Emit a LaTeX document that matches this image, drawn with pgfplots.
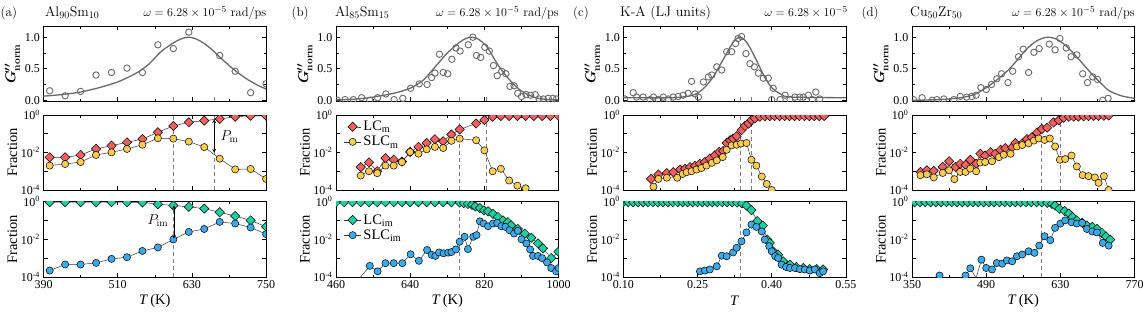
\documentclass[border=0pt]{standalone}
\usepackage[no-math]{fontspec}
\setmainfont{Liberation Serif}
\usepackage{pgfplots}
\pgfplotsset{compat=1.18}

\definecolor{redc}{RGB}{240,96,96}
\definecolor{yelc}{RGB}{250,205,80}
\definecolor{grnc}{RGB}{30,208,160}
\definecolor{bluc}{RGB}{58,170,235}
\definecolor{gcol}{RGB}{105,105,105}
\definecolor{dcol}{RGB}{125,125,125}

\newcommand\tickfont{\fontsize{12}{13}\selectfont}
\newcommand\labfont{\fontsize{14.5}{15}\selectfont}
\newcommand\titfont{\fontfamily{lmr}\fontsize{14}{16}\selectfont}
\newcommand\omfont{\fontfamily{lmr}\fontsize{12.5}{14}\selectfont}
\newcommand\plfont{\fontfamily{lmr}\fontsize{13}{15}\selectfont}
\newcommand\sps[1]{\textsuperscript{#1}}
\newcommand\Glab{{\boldmath$G^{\prime\prime}_{\mathrm{norm}}$}}

\tikzset{dsh/.style={draw=dcol, line width=1pt, dash pattern=on 4pt off 3pt}}

\pgfplotsset{
  base/.style={scale only axis, width=222.6pt, anchor=north west,
    axis line style={line width=0.8pt}, tick style={line width=0.6pt, black},
    major tick length=4pt, minor tick length=2.5pt,
    tick label style={font=\tickfont},
    every axis y label/.style={at={(axis description cs:-0.14,0.5)}, rotate=90, anchor=center, font=\labfont},
    every axis x label/.style={at={(axis description cs:0.5,-0.32)}, anchor=center, font=\labfont},
    clip marker paths=true},
  colA/.style={xmin=390,xmax=750,xtick={390,510,630,750},minor xtick={450,570,690}},
  colB/.style={xmin=460,xmax=1000,xtick={460,640,820,1000},minor xtick={550,730,910}},
  colC/.style={xmin=0.10,xmax=0.55,xtick={0.10,0.25,0.40,0.55},minor xtick={0.175,0.325,0.475}},
  colD/.style={xmin=350,xmax=770,xtick={350,490,630,770},minor xtick={420,560,700}},
  toprow/.style={height=75pt, ymin=-0.02, ymax=1.17, ytick={0,0.5,1}, yticklabels={0.0,0.5,1.0}, minor ytick={0.25,0.75}, ylabel={\Glab}, xticklabel=\empty},
  logrow/.style={ymin=1e-4, ymax=1, ytick={1e-4,1e-3,1e-2,1e-1,1}, yticklabels={10\sps{-4},,10\sps{-2},,10\sps{0}}, yminorticks=false, ylabel={Fraction}},
  midrow/.style={logrow, height=75pt, xticklabel=\empty},
  botrow/.style={logrow, height=75.5pt, xlabel={\textit{T}\,(K)}},
  gcirc/.style={only marks, mark=o, mark size=3.2pt, color=gcol, mark options={line width=0.9pt}},
  gfit/.style={no marks, smooth, color=gcol, line width=1.3pt},
  lc/.style={color=black!80, line width=0.5pt, mark=square*, mark size=3.3pt, mark options={rotate=45, fill=#1, draw=black, line width=0.5pt}},
  slc/.style={color=black!80, line width=0.5pt, mark=*, mark size=3.6pt, mark options={fill=#1, draw=black, line width=0.5pt}},
  vd/.style={dsh, forget plot, no marks},
  leg/.style={legend style={draw=none, fill=none, at={(axis description cs:0.03,#1)}, anchor=north west, font=\labfont, inner sep=1pt, row sep=0pt}, legend cell align=left},
}

\begin{document}
\begin{tikzpicture}
\useasboundingbox (0,0) rectangle (1144pt,-313pt);

% ---------- titles ----------
\node[anchor=base west, inner sep=0pt, font=\plfont] at (0.5pt,-16.5pt) {(a)};
\node[anchor=base west, inner sep=0pt, font=\titfont] at (45pt,-16.5pt) {Al$_{90}$Sm$_{10}$};
\node[anchor=base east, inner sep=0pt, font=\omfont] at (266.5pt,-16.5pt) {$\omega = 6.28\times10^{-5}$ rad/ps};
\node[anchor=base west, inner sep=0pt, font=\plfont] at (291.5pt,-16.5pt) {(b)};
\node[anchor=base west, inner sep=0pt, font=\titfont] at (335pt,-16.5pt) {Al$_{85}$Sm$_{15}$};
\node[anchor=base east, inner sep=0pt, font=\omfont] at (559pt,-16.5pt) {$\omega = 6.28\times10^{-5}$ rad/ps};
\node[anchor=base west, inner sep=0pt, font=\plfont] at (573pt,-16.5pt) {(c)};
\node[anchor=base west, inner sep=0pt, font=\titfont] at (620pt,-16.5pt) {K-A (LJ units)};
\node[anchor=base east, inner sep=0pt, font=\omfont] at (848pt,-16.5pt) {$\omega = 6.28\times10^{-5}$};
\node[anchor=base west, inner sep=0pt, font=\plfont] at (861.5pt,-16.5pt) {(d)};
\node[anchor=base west, inner sep=0pt, font=\titfont] at (910pt,-16.5pt) {Cu$_{50}$Zr$_{50}$};
\node[anchor=base east, inner sep=0pt, font=\omfont] at (1135pt,-16.5pt) {$\omega = 6.28\times10^{-5}$ rad/ps};

% ================= (a) =================
\begin{axis}[base, colA, toprow, at={(43.5pt,-26.5pt)}]
\addplot[vd] coordinates {(601,-0.02) (601,0.08)};
\addplot[vd] coordinates {(666,-0.02) (666,0.08)};
\addplot[gfit] coordinates {(390,0.065) (420,0.09) (450,0.13) (480,0.2) (510,0.29) (540,0.43) (560,0.57) (580,0.77) (600,0.91) (612,0.97) (623,1.0) (635,0.98) (650,0.9) (665,0.78) (680,0.64) (700,0.47) (720,0.33) (740,0.22) (750,0.18)};
\addplot[gcirc] coordinates {(400,0.15) (425,0.07) (450,0.14) (475,0.40) (500,0.44) (525,0.51) (550,0.44) (575,0.88) (600,0.82) (625,1.08) (675,0.71) (700,0.46) (725,0.12) (750,0.26)};
\end{axis}

\begin{axis}[ymode=log, base, colA, midrow, at={(43.5pt,-115pt)}]
\addplot[vd] coordinates {(601,1e-4) (601,1)};
\addplot[vd] coordinates {(666,1e-4) (666,1)};
\addplot[lc=redc] coordinates {(400,5.5e-3) (425,5.5e-3) (450,7.4e-3) (475,1.55e-2) (500,2.3e-2) (525,3.5e-2) (550,5.2e-2) (575,0.12) (600,0.26) (625,0.41) (650,0.5) (675,0.62) (700,0.81) (725,0.91) (750,0.91)};
\addplot[slc=yelc] coordinates {(400,2.0e-3) (425,2.45e-3) (450,3.1e-3) (475,7.4e-3) (500,1.02e-2) (525,1.55e-2) (550,2.6e-2) (575,5.75e-2) (600,5.5e-2) (625,3.8e-2) (650,1.95e-2) (675,4.7e-3) (700,1.26e-3) (725,1.32e-3) (750,3.9e-4)};
\draw[stealth-stealth, line width=0.7pt] (axis cs:666,0.59) -- (axis cs:666,0.0098);
\node[anchor=west, font=\titfont, inner sep=0pt] at (axis cs:676,0.07) {$P_{\mathrm{m}}$};
\end{axis}

\begin{axis}[ymode=log, base, colA, botrow, at={(43.5pt,-201.5pt)}, xticklabels={390,510,630,750}]
\addplot[vd] coordinates {(601,1e-4) (601,1)};
\addplot[lc=grnc] coordinates {(400,0.92) (425,0.92) (450,0.92) (475,0.92) (500,0.92) (525,0.92) (550,0.9) (575,0.72) (600,0.62) (625,0.52) (650,0.42) (675,0.27) (700,0.17) (725,0.10) (750,0.046)};
\addplot[slc=bluc] coordinates {(400,2.2e-4) (425,4.6e-4) (450,4.6e-4) (475,5.6e-4) (500,9.1e-4) (525,1.12e-3) (550,2.4e-3) (575,3.7e-3) (600,9.8e-3) (625,2.45e-2) (650,3.5e-2) (675,8.3e-2) (700,6.8e-2) (725,4.2e-2) (750,1.86e-2)};
\draw[stealth-stealth, line width=0.7pt] (axis cs:601,0.62) -- (axis cs:601,0.011);
\node[anchor=east, font=\titfont, inner sep=0pt] at (axis cs:592,0.1) {$P_{\mathrm{im}}$};
\end{axis}

% ================= (b) =================
\begin{axis}[base, colB, toprow, at={(336pt,-26.5pt)}]
\addplot[vd] coordinates {(760,-0.02) (760,0.08)};
\addplot[vd] coordinates {(825,-0.02) (825,0.08)};
\addplot[gfit] coordinates {(460,0.005) (500,0.015) (540,0.04) (567,0.07) (600,0.11) (640,0.19) (670,0.31) (690,0.45) (710,0.6) (730,0.75) (760,0.92) (775,0.98) (789,1.0) (805,0.97) (825,0.86) (840,0.7) (857,0.52) (875,0.37) (890,0.26) (905,0.17) (922,0.1) (940,0.05) (954,0.025) (980,0.01) (1000,0.005)};
\addplot[gcirc] coordinates {(463,0.00) (482,0.01) (502,0.01) (522,0.04) (542,0.00) (561,0.04) (581,0.10) (601,0.01) (622,0.03) (641,0.19) (662,0.26) (681,0.25) (692,0.36) (700,0.43) (711,0.73) (720,0.44) (731,0.42) (741,0.65) (751,0.83) (761,0.78) (781,0.88) (792,1.0) (801,0.71) (811,0.68) (821,0.84) (832,0.78) (842,0.55) (851,0.39) (862,0.46) (872,0.42) (882,0.22) (892,0.23) (901,0.11) (910,0.06) (921,0.09) (932,0.08) (943,0.09) (953,0.02) (963,0.02) (975,0.03) (986,0.03) (995,0.02)};
\end{axis}

\begin{axis}[ymode=log, base, colB, midrow, at={(336pt,-115pt)}, leg=0.96]
\addplot[vd] coordinates {(760,1e-4) (760,1)};
\addplot[vd] coordinates {(825,1e-4) (825,1)};
\addplot[lc=redc] coordinates {(520,1.66e-3) (540,2.95e-3) (560,1.0e-3) (580,5.0e-3) (600,4.1e-3) (620,3.3e-3) (640,1.07e-2) (660,2.0e-2) (680,3.2e-2) (700,5.1e-2) (720,4.0e-2) (740,9.1e-2) (760,0.17) (800,0.35) (820,0.54) (840,0.81) (860,0.88) (880,0.88) (900,0.88) (920,0.88) (940,0.88) (960,0.88) (980,0.88) (1000,0.88)};
\addlegendentry{LC\textsubscript{m}}
\addplot[slc=yelc] coordinates {(520,5.9e-4) (540,1.0e-3) (560,7.9e-4) (580,2.0e-3) (600,2.0e-3) (620,3.1e-3) (640,1.07e-2) (660,8.7e-3) (680,1.48e-2) (700,2.0e-2) (720,1.74e-2) (740,4.2e-2) (760,5.5e-2) (800,4.5e-2) (820,1.3e-2) (840,1.0e-3) (860,1.35e-3) (880,3.2e-4) (900,1.7e-4) (920,1.23e-4) (940,3e-5)};
\addlegendentry{SLC\textsubscript{m}}
\end{axis}

\begin{axis}[ymode=log, base, colB, botrow, at={(336pt,-201.5pt)}, xticklabels={460,640,820,1000}, leg=0.87]
\addplot[vd] coordinates {(760,1e-4) (760,1)};
\addplot[lc=grnc] coordinates {(460,0.92) (480,0.92) (500,0.92) (520,0.92) (540,0.92) (560,0.92) (580,0.92) (600,0.92) (620,0.92) (640,0.92) (660,0.92) (680,0.92) (700,0.92) (720,0.92) (740,0.92) (760,0.88) (770,0.82) (780,0.75) (790,0.66) (798,0.55) (809,0.45) (819,0.34) (829,0.3) (841,0.22) (853,0.15) (865,0.1) (877,0.08) (885,0.055) (901,0.035) (918,0.02) (934,0.012) (950,6e-3) (962,3.3e-3) (982,1.0e-3) (1000,2.2e-3)};
\addlegendentry{LC\textsubscript{im}}
\addplot[slc=bluc] coordinates {(466,9e-5) (500,3e-5) (542,3.9e-4) (561,2.0e-4) (580,5.4e-4) (600,5.4e-4) (621,5.4e-4) (641,1.6e-3) (661,7.2e-4) (681,2.7e-3) (692,1.5e-3) (701,1.3e-3) (710,2.0e-3) (721,1.8e-3) (732,1.95e-3) (740,2.1e-3) (751,2.9e-3) (760,7.4e-3) (772,1.35e-2) (780,3.0e-3) (793,1.35e-2) (801,1.65e-2) (809,8.9e-2) (818,6.8e-2) (829,4.9e-2) (841,6.8e-2) (851,7.3e-2) (861,4.9e-2) (871,4.5e-2) (881,3.0e-2) (892,2.0e-2) (901,2.8e-2) (910,1.0e-2) (922,6.0e-3) (931,2.9e-3) (938,1.3e-3) (950,1.3e-3) (960,1.0e-3) (972,5.9e-4) (982,3.0e-4) (994,2.0e-4) (1000,3.0e-4)};
\addlegendentry{SLC\textsubscript{im}}
\end{axis}

% ================= (c) =================
\begin{axis}[base, colC, toprow, at={(623.3pt,-26.5pt)}]
\addplot[vd] coordinates {(0.337,-0.02) (0.337,0.08)};
\addplot[vd] coordinates {(0.359,-0.02) (0.359,0.08)};
\addplot[gfit] coordinates {(0.10,0.04) (0.20,0.04) (0.24,0.08) (0.26,0.17) (0.28,0.35) (0.30,0.62) (0.315,0.83) (0.325,0.95) (0.335,1.0) (0.345,0.96) (0.355,0.85) (0.37,0.62) (0.385,0.38) (0.40,0.2) (0.42,0.09) (0.44,0.05) (0.55,0.04)};
\addplot[gcirc] coordinates {(0.103,0.02) (0.120,0.12) (0.127,0.05) (0.140,0.05) (0.154,0.01) (0.161,0.05) (0.171,0.01) (0.181,0.05) (0.191,0.02) (0.201,0.05) (0.211,0.06) (0.221,0.08) (0.231,0.11) (0.238,0.30) (0.245,0.10) (0.252,0.05) (0.262,0.29) (0.272,0.37) (0.279,0.40) (0.289,0.53) (0.299,0.48) (0.309,0.77) (0.319,0.77) (0.327,0.90) (0.332,0.98) (0.339,1.01) (0.348,0.74) (0.356,0.58) (0.365,0.53) (0.373,0.43) (0.383,0.35) (0.393,0.35) (0.400,0.01) (0.403,0.19) (0.417,0.01) (0.427,0.08) (0.437,0.01) (0.447,0.05) (0.457,0.05) (0.464,0.05) (0.474,0.08) (0.482,0.01) (0.489,0.13) (0.497,0.02)};
\end{axis}

\begin{axis}[ymode=log, base, colC, midrow, at={(623.3pt,-115pt)}, ylabel={Frcation}]
\addplot[vd] coordinates {(0.337,1e-4) (0.337,1)};
\addplot[vd] coordinates {(0.359,1e-4) (0.359,1)};
\addplot[lc=redc] coordinates {(0.156,3.9e-4) (0.171,6.7e-4) (0.188,7.9e-4) (0.201,8.9e-4) (0.215,1.23e-3) (0.225,1.35e-3) (0.235,1.66e-3) (0.245,1.95e-3) (0.255,2.5e-3) (0.265,3.1e-3) (0.275,4.7e-3) (0.285,7.1e-3) (0.294,1.07e-2) (0.302,1.2e-2) (0.309,3.2e-2) (0.316,4.5e-2) (0.322,5.5e-2) (0.329,7.4e-2) (0.339,0.155) (0.346,0.26) (0.353,0.35) (0.359,0.54) (0.366,0.66) (0.376,0.81) (0.386,0.86) (0.396,0.88) (0.406,0.88) (0.416,0.88) (0.426,0.88) (0.436,0.88) (0.446,0.88) (0.456,0.88) (0.466,0.88) (0.476,0.88) (0.486,0.88) (0.496,0.88) (0.506,0.88)};
\addplot[slc=yelc] coordinates {(0.161,1.5e-4) (0.171,3.9e-4) (0.188,4.5e-4) (0.209,4.5e-4) (0.220,7.2e-4) (0.228,8.9e-4) (0.238,1.0e-3) (0.248,1.23e-3) (0.258,1.48e-3) (0.268,2.0e-3) (0.279,2.8e-3) (0.289,3.8e-3) (0.301,5.7e-3) (0.309,1.4e-2) (0.319,2.4e-2) (0.329,2.6e-2) (0.338,3.0e-2) (0.349,3.2e-2) (0.359,4.1e-3) (0.369,2.0e-3) (0.380,5.2e-4) (0.390,2.1e-4) (0.400,1.0e-4)};
\end{axis}

\begin{axis}[ymode=log, base, colC, botrow, at={(623.3pt,-201.5pt)}, xticklabels={0.10,0.25,0.40,0.55}, ylabel={Frcation}, xlabel={\textit{T}}]
\addplot[vd] coordinates {(0.337,1e-4) (0.337,1)};
\addplot[lc=grnc] coordinates {(0.10,0.92) (0.11,0.92) (0.12,0.92) (0.13,0.92) (0.14,0.92) (0.15,0.92) (0.16,0.92) (0.17,0.92) (0.18,0.92) (0.19,0.92) (0.20,0.92) (0.21,0.92) (0.22,0.92) (0.23,0.92) (0.24,0.92) (0.25,0.92) (0.26,0.92) (0.27,0.92) (0.28,0.92) (0.29,0.92) (0.30,0.92) (0.31,0.92) (0.32,0.92) (0.33,0.88) (0.34,0.8) (0.349,0.61) (0.359,0.35) (0.371,0.091) (0.382,0.053) (0.391,9.6e-3) (0.396,6.4e-3) (0.403,2.3e-3) (0.413,1.5e-3) (0.423,6.8e-4) (0.437,4.5e-4) (0.450,3.4e-4) (0.464,3.0e-4) (0.477,2.6e-4) (0.491,2.6e-4) (0.504,2.5e-4)};
\addplot[slc=bluc] coordinates {(0.255,2.0e-4) (0.265,2.2e-4) (0.275,2.5e-4) (0.289,3.7e-4) (0.299,1.35e-3) (0.309,1.26e-3) (0.322,2.0e-3) (0.329,3.5e-3) (0.339,7.8e-3) (0.349,2.3e-2) (0.359,6.0e-2) (0.369,4.5e-2) (0.380,2.6e-2) (0.386,9.6e-3) (0.395,4.3e-3) (0.400,2.3e-3) (0.407,1.26e-3) (0.413,1.02e-3) (0.420,4.5e-4) (0.429,3.4e-4) (0.437,3.0e-4) (0.447,3.0e-4) (0.457,2.6e-4) (0.467,2.5e-4) (0.477,2.2e-4) (0.487,2.5e-4) (0.497,1.6e-4) (0.504,2.0e-4)};
\end{axis}

% ================= (d) =================
\begin{axis}[base, colD, toprow, at={(912pt,-26.5pt)}]
\addplot[vd] coordinates {(595,-0.02) (595,0.08)};
\addplot[vd] coordinates {(631,-0.02) (631,0.08)};
\addplot[gfit] coordinates {(350,0.0) (400,0.01) (441,0.04) (470,0.1) (502,0.27) (534,0.5) (565,0.8) (585,0.94) (605,1.0) (625,0.96) (646,0.82) (670,0.6) (691,0.40) (710,0.24) (722,0.15) (745,0.07) (770,0.03)};
\addplot[gcirc] coordinates {(353,0.01) (369,0.04) (388,0.0) (397,0.01) (410,0.02) (429,0.01) (441,0.06) (453,0.05) (463,0.06) (471,0.08) (480,0.2) (490,0.17) (500,0.25) (510,0.34) (519,0.42) (531,0.28) (540,0.46) (551,0.69) (560,0.81) (570,0.44) (580,0.76) (590,0.82) (609,0.89) (620,0.8) (629,0.98) (641,0.83) (650,0.69) (661,0.72) (672,0.42) (681,0.28) (691,0.37) (700,0.33) (710,0.0) (720,0.03)};
\end{axis}

\begin{axis}[ymode=log, base, colD, midrow, at={(912pt,-115pt)}]
\addplot[vd] coordinates {(595,1e-4) (595,1)};
\addplot[vd] coordinates {(631,1e-4) (631,1)};
\addplot[lc=redc] coordinates {(366,9.2e-4) (378,1.13e-3) (391,1.05e-3) (408,1.7e-3) (420,3.4e-3) (432,1.7e-3) (441,2.5e-3) (451,2.2e-3) (460,4.1e-3) (471,2.5e-3) (479,8.5e-3) (488,6.9e-3) (498,1.05e-2) (507,8.5e-3) (517,1.4e-2) (526,1.7e-2) (539,1.9e-2) (545,3.2e-2) (558,3.1e-2) (567,5.2e-2) (576,6.4e-2) (586,0.117) (595,0.18) (605,0.21) (617,0.40) (627,0.52) (636,0.72) (646,0.8) (655,0.82) (664,0.84) (674,0.86) (683,0.88) (693,0.9) (702,0.9) (712,0.92) (721,0.95)};
\addplot[slc=yelc] coordinates {(366,6.2e-4) (378,6.9e-4) (391,4.7e-4) (408,8.1e-4) (420,1.13e-3) (430,3.8e-4) (441,9.2e-4) (451,9.2e-4) (460,1.38e-3) (471,1.0e-3) (479,2.9e-3) (488,3.1e-3) (501,3.4e-3) (514,5.6e-3) (523,7.6e-3) (536,8.5e-3) (548,2.1e-2) (558,2.5e-2) (570,3.1e-2) (580,4.3e-2) (589,5.6e-2) (600,4.7e-2) (610,5.6e-2) (620,2.1e-2) (629,4.1e-3) (639,4.5e-3) (651,6.9e-3) (661,1.8e-3) (672,6.2e-4) (683,5.5e-4) (695,4.7e-4) (702,2.4e-4) (712,5.5e-4) (721,1.0e-4) (728,3e-5)};
\end{axis}

\begin{axis}[ymode=log, base, colD, botrow, at={(912pt,-201.5pt)}, xticklabels={350,490,630,770}]
\addplot[vd] coordinates {(595,1e-4) (595,1)};
\addplot[lc=grnc] coordinates {(355,0.92) (365,0.92) (375,0.92) (385,0.92) (395,0.92) (405,0.92) (415,0.92) (425,0.92) (435,0.92) (445,0.92) (455,0.92) (465,0.92) (475,0.92) (485,0.92) (495,0.92) (505,0.92) (515,0.92) (525,0.92) (535,0.92) (545,0.92) (555,0.92) (565,0.92) (575,0.92) (585,0.92) (595,0.9) (605,0.85) (614,0.75) (620,0.61) (628,0.41) (638,0.31) (646,0.23) (653,0.15) (661,0.10) (671,0.074) (680,0.053) (690,0.045) (699,0.035) (708,0.022) (716,0.014) (724,9.6e-3)};
\addplot[slc=bluc] coordinates {(391,9e-5) (402,1.2e-4) (425,2e-5) (451,1.2e-4) (460,2.9e-4) (471,8.9e-5) (481,8.3e-4) (490,3.0e-4) (501,2.5e-4) (510,5.5e-4) (520,5.1e-4) (529,7.6e-4) (539,6.8e-4) (548,1.26e-3) (558,1.55e-3) (570,2.3e-3) (581,1.9e-3) (590,4.6e-3) (600,1.45e-2) (611,8.9e-3) (620,4.0e-2) (630,6.8e-2) (639,0.10) (651,0.079) (661,0.068) (671,0.074) (680,0.035) (690,0.026) (699,0.023) (710,6.4e-3) (721,4.6e-3)};
\end{axis}

\end{tikzpicture}
\end{document}
